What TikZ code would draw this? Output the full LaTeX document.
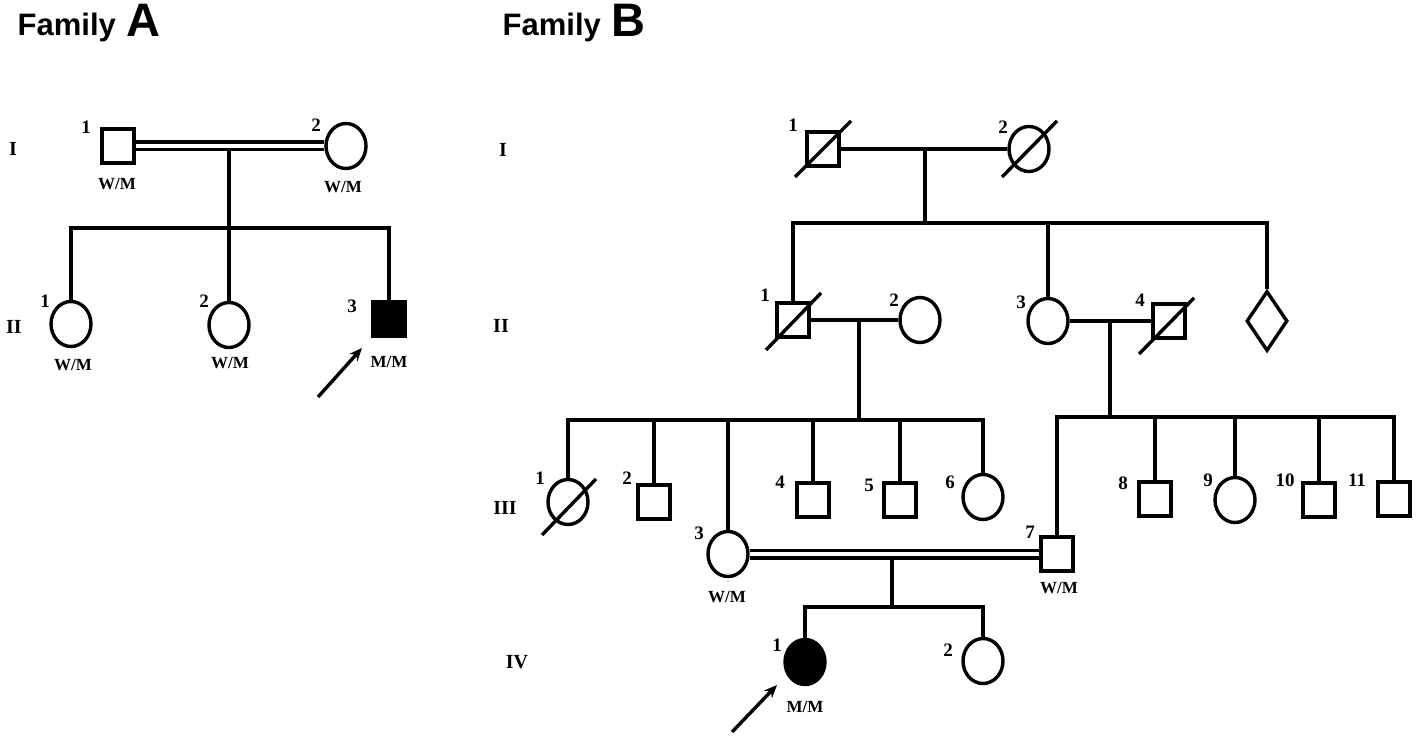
\documentclass[tikz,border=0pt]{standalone}
\usepackage{fontspec}
\setmainfont{Liberation Serif}
\newfontfamily\arialfam{Liberation Sans}
\usetikzlibrary{shapes.geometric,calc,arrows.meta}
\begin{document}
\begin{tikzpicture}[x=1pt,y=-1pt,line width=3.4pt,
  sq/.style={draw, rectangle, minimum width=32pt, minimum height=34pt, inner sep=0pt},
  ci/.style={draw, ellipse, minimum width=40pt, minimum height=45pt, inner sep=0pt},
  dia/.style={draw, diamond, minimum width=41pt, minimum height=60pt, inner sep=0pt},
  aff/.style={fill=black},
  num/.style={font=\fontsize{19}{19}\selectfont\bfseries, inner sep=0pt},
  geno/.style={font=\fontsize{17}{17}\selectfont\bfseries, inner sep=0pt},
  gen/.style={font=\fontsize{20}{20}\selectfont\bfseries, inner sep=0pt},
  ttl/.style={font=\arialfam\bfseries\fontsize{31}{31}\selectfont, anchor=base west, inner sep=0pt},
  ttlletter/.style={font=\arialfam\bfseries\fontsize{47}{47}\selectfont, anchor=base west, inner sep=0pt},
  cons/.style={double, double distance=4pt, line width=3.5pt},
  slash/.style={line width=3.4pt},
  proband/.style={-{Stealth[length=13pt,width=11pt]}, line width=3.4pt}]
\useasboundingbox[fill=white] (0,0) rectangle (1418,738);

% ---------- titles ----------
\node[ttl] (tA) at (16,36) {Family};
\node[ttlletter] (tAL) at (125,37) {A};
\node[ttl] (tB) at (501,36) {Family};
\node[ttlletter] (tBL) at (610,37) {B};

% ---------- Family A ----------
\node[gen] (gA1) at (13,149) {I};
\node[gen] (gA2) at (14,327) {II};

\node[sq] (A11) at (118,146) {};
\node[ci] (A12) at (346,146) {};
\node[ci] (A21) at (71,324) {};
\node[ci] (A22) at (229,325) {};
\node[sq,aff] (A23) at (389,319) {};

\coordinate (mA) at (229,151);
\coordinate (sA) at (229,228);
\draw[cons] (A11.east) -- (A12.west);
\draw (mA) -- (A22.north);
\draw (A21.north) -- (A21.north |- sA) -- (A23.north |- sA) -- (A23.north);

\node[num] (nA11) at (86,127) {1};
\node[num] (nA12) at (316,125) {2};
\node[num] (nA21) at (45,301) {1};
\node[num] (nA22) at (204,301) {2};
\node[num] (nA23) at (352,306) {3};
\node[geno] (gtA11) at (117,184) {W/M};
\node[geno] (gtA12) at (343,187) {W/M};
\node[geno] (gtA21) at (73,365) {W/M};
\node[geno] (gtA22) at (230,363) {W/M};
\node[geno] (gtA23) at (389,362) {M/M};

\coordinate (pA) at (318,397);
\draw[proband] (pA) -- ($(A23)+(-27,29)$);

% ---------- Family B ----------
\node[gen] (gB1) at (503,150) {I};
\node[gen] (gB2) at (501,326) {II};
\node[gen] (gB3) at (505,508) {III};
\node[gen] (gB4) at (517,662) {IV};

% generation I
\node[sq] (B11) at (823,149) {};
\node[ci] (B12) at (1029,149) {};
\draw[slash] ($(B11)+(-28,28)$) -- ($(B11)+(28,-28)$);
\draw[slash] ($(B12)+(-27,28)$) -- ($(B12)+(28,-28)$);
\draw (B11.east) -- (B12.west);
\coordinate (mB1) at (925,149);
\coordinate (sB2) at (925,223);

% generation II
\node[sq] (B21) at (793,320) {};
\node[ci] (B22) at (920,320) {};
\node[ci] (B23) at (1048,321) {};
\node[sq] (B24) at (1169,321) {};
\node[dia] (B25) at (1267,321) {};
\draw[slash] ($(B21)+(-27,30)$) -- ($(B21)+(28,-27)$);
\draw[slash] ($(B24)+(-30,33)$) -- ($(B24)+(25,-23)$);

\draw (mB1) -- (sB2);
\draw (B21.north) -- (B21.north |- sB2) -- (B25.north |- sB2) -- (B25.north);
\draw (B23.north) -- (B23.north |- sB2);

\draw (B21.east) -- (B22.west);
\draw (B23.east) -- (B24.west);
\coordinate (mB2) at (859,320);
\coordinate (mB3) at (1110,321);
\coordinate (sB3L) at (859,420);
\coordinate (sB3R) at (1110,417);

% generation III
\node[ci] (B31) at (568,502) {};
\node[sq] (B32) at (654,502) {};
\node[ci] (B33) at (728,554) {};
\node[sq] (B34) at (813,500) {};
\node[sq] (B35) at (900,500) {};
\node[ci] (B36) at (983,497) {};
\node[sq] (B37) at (1057,554) {};
\node[sq] (B38) at (1155,499) {};
\node[ci] (B39) at (1235,500) {};
\node[sq] (B310) at (1319,500) {};
\node[sq] (B311) at (1394,499) {};
\draw[slash] ($(B31)+(-26,33)$) -- ($(B31)+(28,-23)$);

\draw (mB2) -- (sB3L);
\draw (B31.north) -- (B31.north |- sB3L) -- (B36.north |- sB3L) -- (B36.north);
\draw (B32.north) -- (B32.north |- sB3L);
\draw (B33.north) -- (B33.north |- sB3L);
\draw (B34.north) -- (B34.north |- sB3L);
\draw (B35.north) -- (B35.north |- sB3L);

\draw (mB3) -- (sB3R);
\draw (B37.north) -- (B37.north |- sB3R) -- (B311.north |- sB3R) -- (B311.north);
\draw (B38.north) -- (B38.north |- sB3R);
\draw (B39.north) -- (B39.north |- sB3R);
\draw (B310.north) -- (B310.north |- sB3R);

\draw[cons] (B33.east) -- (B37.west);
\coordinate (mB4) at (892,559);
\coordinate (sB4) at (892,607);

% generation IV
\node[ci,aff] (B41) at (805,662) {};
\node[ci] (B42) at (983,661) {};
\draw (mB4) -- (sB4);
\draw (B41.north) -- (B41.north |- sB4) -- (B42.north |- sB4) -- (B42.north);

\coordinate (pB) at (732,732);
\draw[proband] (pB) -- ($(B41)+(-28,23)$);

% labels B
\node[num] (nB11) at (793,125) {1};
\node[num] (nB12) at (1003,127) {2};
\node[num] (nB21) at (765,295) {1};
\node[num] (nB22) at (894,300) {2};
\node[num] (nB23) at (1021,302) {3};
\node[num] (nB24) at (1140,300) {4};
\node[num] (nB31) at (540,478) {1};
\node[num] (nB32) at (627,478) {2};
\node[num] (nB33) at (699,533) {3};
\node[num] (nB34) at (780,482) {4};
\node[num] (nB35) at (869,485) {5};
\node[num] (nB36) at (950,482) {6};
\node[num] (nB37) at (1030,532) {7};
\node[num] (nB38) at (1123,483) {8};
\node[num] (nB39) at (1208,480) {9};
\node[num] (nB310) at (1285,480) {10};
\node[num] (nB311) at (1357,480) {11};
\node[num] (nB41) at (777,645) {1};
\node[num] (nB42) at (948,650) {2};
\node[geno] (gtB33) at (727,597) {W/M};
\node[geno] (gtB37) at (1059,588) {W/M};
\node[geno] (gtB41) at (805,707) {M/M};
\end{tikzpicture}
\end{document}
